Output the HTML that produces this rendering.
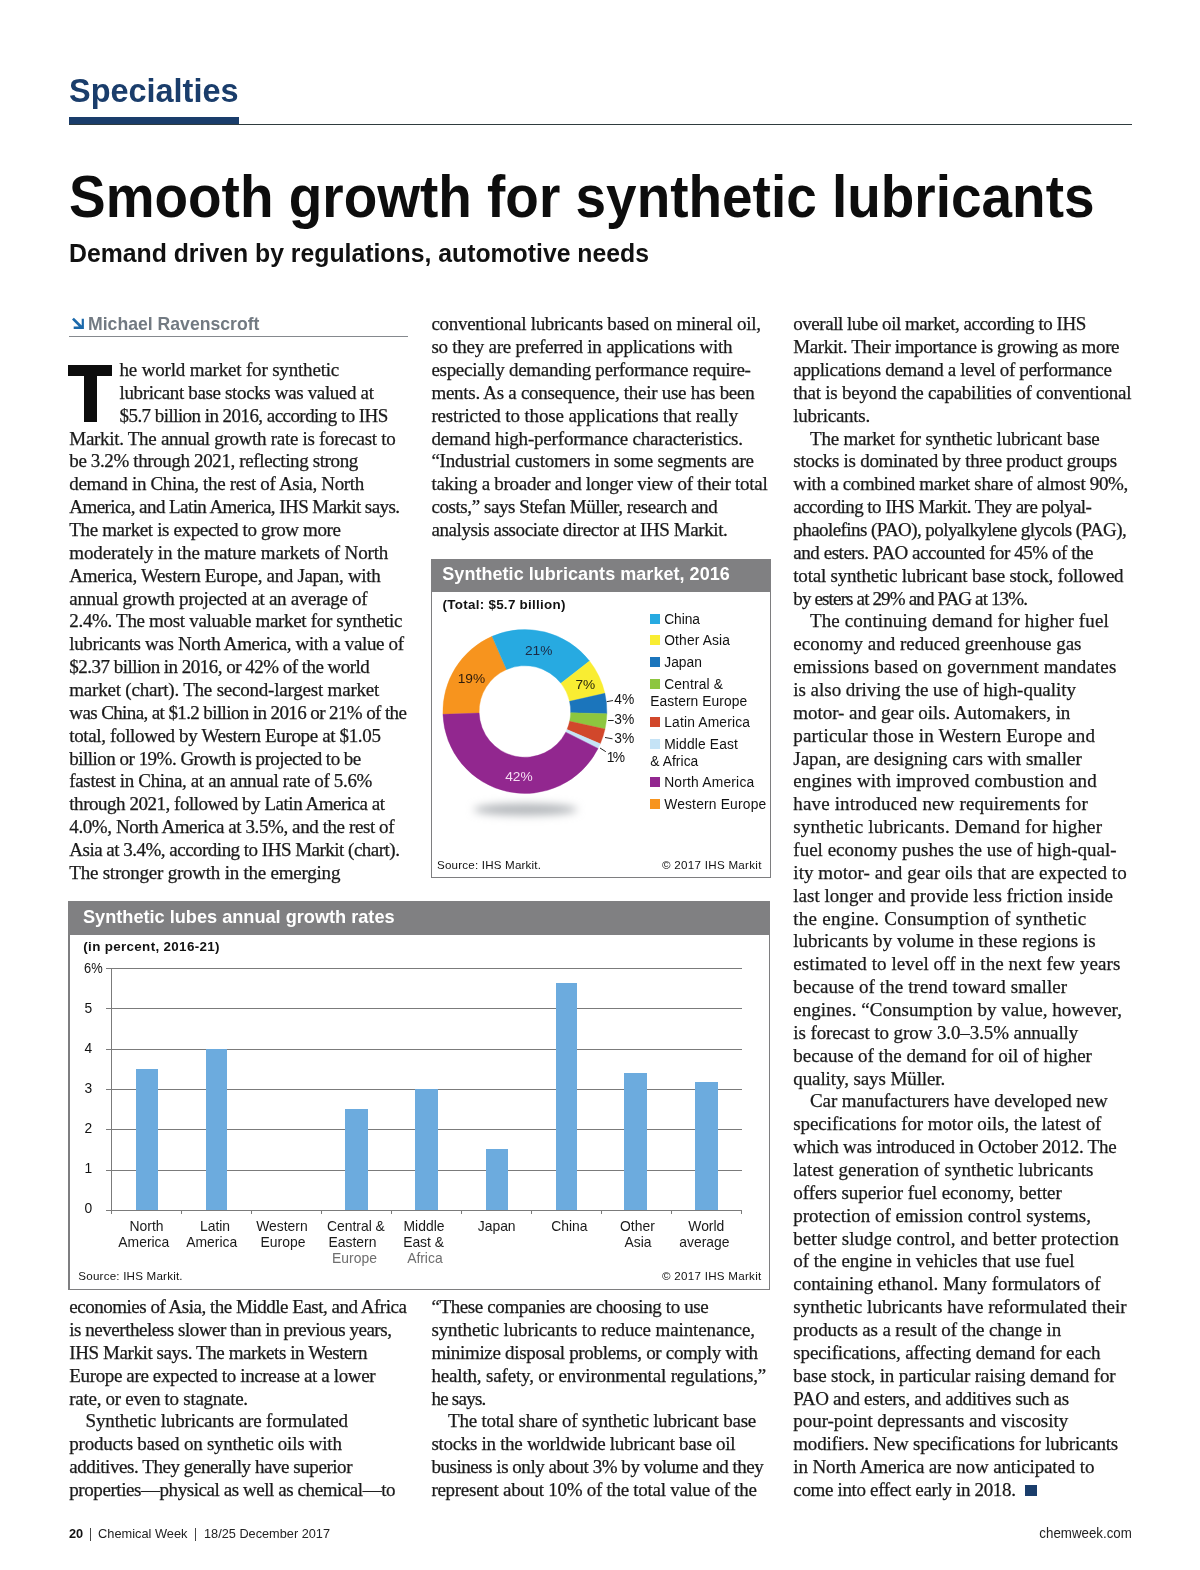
<!DOCTYPE html>
<html><head><meta charset="utf-8"><title>Smooth growth for synthetic lubricants</title>
<style>html,body{margin:0;padding:0;background:#fff}body{width:1200px;height:1570px;position:relative;overflow:hidden}</style>
</head><body>
<div style="position:absolute;left:0;top:0;width:1200px;height:1570px;will-change:transform">
<div style="position:absolute;left:69.20px;top:117.20px;width:169.60px;height:7.50px;background:#1a3d6b;"></div>
<div style="position:absolute;left:69.20px;top:123.70px;width:1062.80px;height:1.20px;background:#2f3b3e;"></div>
<svg style="position:absolute;left:70px;top:315px" width="16" height="16" viewBox="70 315 16 16"><path d="M73.9 317.7 L81.7 325.5 L81.7 318.7 L83.9 318.7 L83.9 328.9 L73.7 328.9 L73.7 326.5 L78.8 326.5 L72 319.6 Z" fill="#1b69ab"/></svg>
<div style="position:absolute;left:69.00px;top:335.70px;width:339.00px;height:1.10px;background:#85898e;"></div>
<div style="position:absolute;left:68.00px;top:365.00px;width:44.00px;height:11.10px;background:#0d0d0d;"></div>
<div style="position:absolute;left:84.00px;top:365.00px;width:12.70px;height:56.70px;background:#0d0d0d;"></div>
<div style="position:absolute;left:1025.40px;top:1485.00px;width:11.70px;height:10.60px;background:#1a3d6b;"></div>
<div style="position:absolute;left:431.1px;top:559px;width:338px;height:317px;border:1px solid #7e7e80;border-left-width:1.2px;background:#fff"></div>
<div style="position:absolute;left:431.00px;top:559.00px;width:340.30px;height:32.50px;background:#808082;"></div>
<svg style="position:absolute;left:431px;top:592px" width="340" height="285" viewBox="431 592 340 285"><defs><filter id="bl" x="-30%" y="-200%" width="160%" height="500%"><feGaussianBlur stdDeviation="4"/></filter></defs><ellipse cx="525.5" cy="809.5" rx="52" ry="6" fill="#b4b7bb" filter="url(#bl)"/><path d="M442.95 714.36 A82.0 82.0 0 0 1 492.07 636.36 L506.56 669.53 A45.8 45.8 0 0 0 479.13 713.10 Z" fill="#f7941e" stroke="#f7941e" stroke-width="0.4"/><path d="M492.07 636.36 A82.0 82.0 0 0 1 589.52 661.02 L560.99 683.30 A45.8 45.8 0 0 0 506.56 669.53 Z" fill="#27aae1" stroke="#27aae1" stroke-width="0.4"/><path d="M589.52 661.02 A82.0 82.0 0 0 1 604.86 693.33 L569.56 701.35 A45.8 45.8 0 0 0 560.99 683.30 Z" fill="#f9ed32" stroke="#f9ed32" stroke-width="0.4"/><path d="M604.86 693.33 A82.0 82.0 0 0 1 606.87 713.79 L570.68 712.78 A45.8 45.8 0 0 0 569.56 701.35 Z" fill="#1b75bc" stroke="#1b75bc" stroke-width="0.4"/><path d="M606.87 713.79 A82.0 82.0 0 0 1 604.99 729.11 L569.63 721.33 A45.8 45.8 0 0 0 570.68 712.78 Z" fill="#8dc63f" stroke="#8dc63f" stroke-width="0.4"/><path d="M604.99 729.11 A82.0 82.0 0 0 1 600.27 743.80 L567.00 729.54 A45.8 45.8 0 0 0 569.63 721.33 Z" fill="#d1472b" stroke="#d1472b" stroke-width="0.4"/><path d="M600.27 743.80 A82.0 82.0 0 0 1 598.09 748.47 L565.78 732.15 A45.8 45.8 0 0 0 567.00 729.54 Z" fill="#c5e3f6" stroke="#c5e3f6" stroke-width="0.4"/><path d="M598.09 748.47 A82.0 82.0 0 0 1 442.95 714.36 L479.13 713.10 A45.8 45.8 0 0 0 565.78 732.15 Z" fill="#92278f" stroke="#92278f" stroke-width="0.4"/><g stroke="#222" stroke-width="1" fill="none"><path d="M606.7 701.7 L613 700.5"/><path d="M608 720.5 L613.7 720.5"/><path d="M605 737.5 L612.5 738.8"/><path d="M600 748 L605.8 751.7"/></g></svg>
<div style="position:absolute;left:650.00px;top:614.40px;width:10.00px;height:9.70px;background:#27aae1;"></div>
<div style="position:absolute;left:650.00px;top:635.40px;width:10.00px;height:9.70px;background:#f9ed32;"></div>
<div style="position:absolute;left:650.00px;top:657.40px;width:10.00px;height:9.70px;background:#1b75bc;"></div>
<div style="position:absolute;left:650.00px;top:679.40px;width:10.00px;height:9.70px;background:#8dc63f;"></div>
<div style="position:absolute;left:650.00px;top:717.40px;width:10.00px;height:9.70px;background:#d1472b;"></div>
<div style="position:absolute;left:650.00px;top:739.40px;width:10.00px;height:9.70px;background:#c5e3f6;"></div>
<div style="position:absolute;left:650.00px;top:777.40px;width:10.00px;height:9.70px;background:#92278f;"></div>
<div style="position:absolute;left:650.00px;top:799.40px;width:10.00px;height:9.70px;background:#f7941e;"></div>
<div style="position:absolute;left:68.2px;top:901px;width:699.1px;height:386.8px;border:1px solid #7e7e80;border-left-width:2px;background:#fff"></div>
<div style="position:absolute;left:68.20px;top:901.00px;width:702.10px;height:33.50px;background:#808082;"></div>
<div style="position:absolute;left:106.20px;top:1209.90px;width:635.50px;height:1.00px;background:#7b7b7b;"></div>
<div style="position:absolute;left:106.20px;top:1169.57px;width:635.50px;height:1.00px;background:#7b7b7b;"></div>
<div style="position:absolute;left:106.20px;top:1129.23px;width:635.50px;height:1.00px;background:#7b7b7b;"></div>
<div style="position:absolute;left:106.20px;top:1088.90px;width:635.50px;height:1.00px;background:#7b7b7b;"></div>
<div style="position:absolute;left:106.20px;top:1048.57px;width:635.50px;height:1.00px;background:#7b7b7b;"></div>
<div style="position:absolute;left:106.20px;top:1008.23px;width:635.50px;height:1.00px;background:#7b7b7b;"></div>
<div style="position:absolute;left:106.20px;top:967.90px;width:635.50px;height:1.00px;background:#7b7b7b;"></div>
<div style="position:absolute;left:110.90px;top:968.40px;width:1.00px;height:242.50px;background:#7b7b7b;"></div>
<div style="position:absolute;left:110.90px;top:1210.40px;width:1.00px;height:3.40px;background:#7b7b7b;"></div>
<div style="position:absolute;left:180.93px;top:1210.40px;width:1.00px;height:3.40px;background:#7b7b7b;"></div>
<div style="position:absolute;left:250.96px;top:1210.40px;width:1.00px;height:3.40px;background:#7b7b7b;"></div>
<div style="position:absolute;left:320.99px;top:1210.40px;width:1.00px;height:3.40px;background:#7b7b7b;"></div>
<div style="position:absolute;left:391.02px;top:1210.40px;width:1.00px;height:3.40px;background:#7b7b7b;"></div>
<div style="position:absolute;left:461.05px;top:1210.40px;width:1.00px;height:3.40px;background:#7b7b7b;"></div>
<div style="position:absolute;left:531.08px;top:1210.40px;width:1.00px;height:3.40px;background:#7b7b7b;"></div>
<div style="position:absolute;left:601.11px;top:1210.40px;width:1.00px;height:3.40px;background:#7b7b7b;"></div>
<div style="position:absolute;left:671.14px;top:1210.40px;width:1.00px;height:3.40px;background:#7b7b7b;"></div>
<div style="position:absolute;left:741.17px;top:1210.40px;width:1.00px;height:3.40px;background:#7b7b7b;"></div>
<div style="position:absolute;left:136.30px;top:1069.00px;width:21.50px;height:141.10px;background:#6cabde;"></div>
<div style="position:absolute;left:206.30px;top:1048.80px;width:20.60px;height:161.30px;background:#6cabde;"></div>
<div style="position:absolute;left:345.40px;top:1109.30px;width:22.20px;height:100.80px;background:#6cabde;"></div>
<div style="position:absolute;left:415.40px;top:1088.80px;width:22.20px;height:121.30px;background:#6cabde;"></div>
<div style="position:absolute;left:486.00px;top:1149.30px;width:22.00px;height:60.80px;background:#6cabde;"></div>
<div style="position:absolute;left:556.00px;top:983.00px;width:20.80px;height:227.10px;background:#6cabde;"></div>
<div style="position:absolute;left:624.20px;top:1072.70px;width:22.80px;height:137.40px;background:#6cabde;"></div>
<div style="position:absolute;left:695.20px;top:1082.20px;width:22.70px;height:127.90px;background:#6cabde;"></div>
<div style="position:absolute;left:90.40px;top:1528.20px;width:1.00px;height:12.60px;background:#444;"></div>
<div style="position:absolute;left:195.40px;top:1528.20px;width:1.00px;height:12.60px;background:#444;"></div>
<div style='position:absolute;top:68.00px;line-height:44.2px;height:44.2px;font-family:"Liberation Sans", sans-serif;font-size:34px;color:#1a3d6b;white-space:pre;font-weight:bold;left:69.30px;transform:scaleX(0.9541);transform-origin:0 0;'>Specialties</div>
<div style='position:absolute;top:158.00px;line-height:77.35px;height:77.35px;font-family:"Liberation Sans", sans-serif;font-size:59.5px;color:#0d0d0d;white-space:pre;font-weight:bold;left:69.00px;transform:scaleX(0.9233);transform-origin:0 0;'>Smooth growth for synthetic lubricants</div>
<div style='position:absolute;top:237.00px;line-height:32.5px;height:32.5px;font-family:"Liberation Sans", sans-serif;font-size:25px;color:#111;white-space:pre;font-weight:bold;left:69.30px;transform:scaleX(0.9917);transform-origin:0 0;'>Demand driven by regulations, automotive needs</div>
<div style='position:absolute;top:312.00px;line-height:24.18px;height:24.18px;font-family:"Liberation Sans", sans-serif;font-size:18.6px;color:#727a82;white-space:pre;font-weight:bold;left:87.60px;transform:scaleX(0.9483);transform-origin:0 0;'>Michael Ravenscroft</div>
<div style='position:absolute;top:358.00px;line-height:24.7px;height:24.7px;font-family:"Liberation Serif", serif;font-size:19px;color:#1a1a1a;white-space:pre;letter-spacing:-0.177px;left:119.50px;-webkit-text-stroke:0.25px #1a1a1a;'>he world market for synthetic</div>
<div style='position:absolute;top:381.00px;line-height:24.7px;height:24.7px;font-family:"Liberation Serif", serif;font-size:19px;color:#1a1a1a;white-space:pre;letter-spacing:-0.352px;left:119.50px;-webkit-text-stroke:0.25px #1a1a1a;'>lubricant base stocks was valued at</div>
<div style='position:absolute;top:404.00px;line-height:24.7px;height:24.7px;font-family:"Liberation Serif", serif;font-size:19px;color:#1a1a1a;white-space:pre;letter-spacing:-0.551px;left:119.50px;-webkit-text-stroke:0.25px #1a1a1a;'>$5.7 billion in 2016, according to IHS</div>
<div style='position:absolute;top:427.00px;line-height:24.7px;height:24.7px;font-family:"Liberation Serif", serif;font-size:19px;color:#1a1a1a;white-space:pre;letter-spacing:-0.296px;left:69.30px;-webkit-text-stroke:0.25px #1a1a1a;'>Markit. The annual growth rate is forecast to</div>
<div style='position:absolute;top:449.00px;line-height:24.7px;height:24.7px;font-family:"Liberation Serif", serif;font-size:19px;color:#1a1a1a;white-space:pre;letter-spacing:-0.379px;left:69.30px;-webkit-text-stroke:0.25px #1a1a1a;'>be 3.2% through 2021, reflecting strong</div>
<div style='position:absolute;top:472.00px;line-height:24.7px;height:24.7px;font-family:"Liberation Serif", serif;font-size:19px;color:#1a1a1a;white-space:pre;letter-spacing:-0.324px;left:69.30px;-webkit-text-stroke:0.25px #1a1a1a;'>demand in China, the rest of Asia, North</div>
<div style='position:absolute;top:495.00px;line-height:24.7px;height:24.7px;font-family:"Liberation Serif", serif;font-size:19px;color:#1a1a1a;white-space:pre;letter-spacing:-0.567px;left:69.30px;-webkit-text-stroke:0.25px #1a1a1a;'>America, and Latin America, IHS Markit says.</div>
<div style='position:absolute;top:518.00px;line-height:24.7px;height:24.7px;font-family:"Liberation Serif", serif;font-size:19px;color:#1a1a1a;white-space:pre;letter-spacing:-0.357px;left:69.30px;-webkit-text-stroke:0.25px #1a1a1a;'>The market is expected to grow more</div>
<div style='position:absolute;top:541.00px;line-height:24.7px;height:24.7px;font-family:"Liberation Serif", serif;font-size:19px;color:#1a1a1a;white-space:pre;letter-spacing:-0.150px;left:69.30px;-webkit-text-stroke:0.25px #1a1a1a;'>moderately in the mature markets of North</div>
<div style='position:absolute;top:564.00px;line-height:24.7px;height:24.7px;font-family:"Liberation Serif", serif;font-size:19px;color:#1a1a1a;white-space:pre;letter-spacing:-0.328px;left:69.30px;-webkit-text-stroke:0.25px #1a1a1a;'>America, Western Europe, and Japan, with</div>
<div style='position:absolute;top:587.00px;line-height:24.7px;height:24.7px;font-family:"Liberation Serif", serif;font-size:19px;color:#1a1a1a;white-space:pre;letter-spacing:-0.305px;left:69.30px;-webkit-text-stroke:0.25px #1a1a1a;'>annual growth projected at an average of</div>
<div style='position:absolute;top:609.00px;line-height:24.7px;height:24.7px;font-family:"Liberation Serif", serif;font-size:19px;color:#1a1a1a;white-space:pre;letter-spacing:-0.320px;left:69.30px;-webkit-text-stroke:0.25px #1a1a1a;'>2.4%. The most valuable market for synthetic</div>
<div style='position:absolute;top:632.00px;line-height:24.7px;height:24.7px;font-family:"Liberation Serif", serif;font-size:19px;color:#1a1a1a;white-space:pre;letter-spacing:-0.356px;left:69.30px;-webkit-text-stroke:0.25px #1a1a1a;'>lubricants was North America, with a value of</div>
<div style='position:absolute;top:655.00px;line-height:24.7px;height:24.7px;font-family:"Liberation Serif", serif;font-size:19px;color:#1a1a1a;white-space:pre;letter-spacing:-0.522px;left:69.30px;-webkit-text-stroke:0.25px #1a1a1a;'>$2.37 billion in 2016, or 42% of the world</div>
<div style='position:absolute;top:678.00px;line-height:24.7px;height:24.7px;font-family:"Liberation Serif", serif;font-size:19px;color:#1a1a1a;white-space:pre;letter-spacing:-0.212px;left:69.30px;-webkit-text-stroke:0.25px #1a1a1a;'>market (chart). The second-largest market</div>
<div style='position:absolute;top:701.00px;line-height:24.7px;height:24.7px;font-family:"Liberation Serif", serif;font-size:19px;color:#1a1a1a;white-space:pre;letter-spacing:-0.609px;left:69.30px;-webkit-text-stroke:0.25px #1a1a1a;'>was China, at $1.2 billion in 2016 or 21% of the</div>
<div style='position:absolute;top:724.00px;line-height:24.7px;height:24.7px;font-family:"Liberation Serif", serif;font-size:19px;color:#1a1a1a;white-space:pre;letter-spacing:-0.359px;left:69.30px;-webkit-text-stroke:0.25px #1a1a1a;'>total, followed by Western Europe at $1.05</div>
<div style='position:absolute;top:747.00px;line-height:24.7px;height:24.7px;font-family:"Liberation Serif", serif;font-size:19px;color:#1a1a1a;white-space:pre;letter-spacing:-0.510px;left:69.30px;-webkit-text-stroke:0.25px #1a1a1a;'>billion or 19%. Growth is projected to be</div>
<div style='position:absolute;top:769.00px;line-height:24.7px;height:24.7px;font-family:"Liberation Serif", serif;font-size:19px;color:#1a1a1a;white-space:pre;letter-spacing:-0.346px;left:69.30px;-webkit-text-stroke:0.25px #1a1a1a;'>fastest in China, at an annual rate of 5.6%</div>
<div style='position:absolute;top:792.00px;line-height:24.7px;height:24.7px;font-family:"Liberation Serif", serif;font-size:19px;color:#1a1a1a;white-space:pre;letter-spacing:-0.472px;left:69.30px;-webkit-text-stroke:0.25px #1a1a1a;'>through 2021, followed by Latin America at</div>
<div style='position:absolute;top:815.00px;line-height:24.7px;height:24.7px;font-family:"Liberation Serif", serif;font-size:19px;color:#1a1a1a;white-space:pre;letter-spacing:-0.413px;left:69.30px;-webkit-text-stroke:0.25px #1a1a1a;'>4.0%, North America at 3.5%, and the rest of</div>
<div style='position:absolute;top:838.00px;line-height:24.7px;height:24.7px;font-family:"Liberation Serif", serif;font-size:19px;color:#1a1a1a;white-space:pre;letter-spacing:-0.509px;left:69.30px;-webkit-text-stroke:0.25px #1a1a1a;'>Asia at 3.4%, according to IHS Markit (chart).</div>
<div style='position:absolute;top:861.00px;line-height:24.7px;height:24.7px;font-family:"Liberation Serif", serif;font-size:19px;color:#1a1a1a;white-space:pre;letter-spacing:-0.226px;left:69.30px;-webkit-text-stroke:0.25px #1a1a1a;'>The stronger growth in the emerging</div>
<div style='position:absolute;top:1295.00px;line-height:24.7px;height:24.7px;font-family:"Liberation Serif", serif;font-size:19px;color:#1a1a1a;white-space:pre;letter-spacing:-0.483px;left:69.30px;-webkit-text-stroke:0.25px #1a1a1a;'>economies of Asia, the Middle East, and Africa</div>
<div style='position:absolute;top:1318.00px;line-height:24.7px;height:24.7px;font-family:"Liberation Serif", serif;font-size:19px;color:#1a1a1a;white-space:pre;letter-spacing:-0.464px;left:69.30px;-webkit-text-stroke:0.25px #1a1a1a;'>is nevertheless slower than in previous years,</div>
<div style='position:absolute;top:1341.00px;line-height:24.7px;height:24.7px;font-family:"Liberation Serif", serif;font-size:19px;color:#1a1a1a;white-space:pre;letter-spacing:-0.412px;left:69.30px;-webkit-text-stroke:0.25px #1a1a1a;'>IHS Markit says. The markets in Western</div>
<div style='position:absolute;top:1364.00px;line-height:24.7px;height:24.7px;font-family:"Liberation Serif", serif;font-size:19px;color:#1a1a1a;white-space:pre;letter-spacing:-0.365px;left:69.30px;-webkit-text-stroke:0.25px #1a1a1a;'>Europe are expected to increase at a lower</div>
<div style='position:absolute;top:1387.00px;line-height:24.7px;height:24.7px;font-family:"Liberation Serif", serif;font-size:19px;color:#1a1a1a;white-space:pre;letter-spacing:-0.276px;left:69.30px;-webkit-text-stroke:0.25px #1a1a1a;'>rate, or even to stagnate.</div>
<div style='position:absolute;top:1409.00px;line-height:24.7px;height:24.7px;font-family:"Liberation Serif", serif;font-size:19px;color:#1a1a1a;white-space:pre;letter-spacing:-0.147px;left:85.60px;-webkit-text-stroke:0.25px #1a1a1a;'>Synthetic lubricants are formulated</div>
<div style='position:absolute;top:1432.00px;line-height:24.7px;height:24.7px;font-family:"Liberation Serif", serif;font-size:19px;color:#1a1a1a;white-space:pre;letter-spacing:-0.241px;left:69.30px;-webkit-text-stroke:0.25px #1a1a1a;'>products based on synthetic oils with</div>
<div style='position:absolute;top:1455.00px;line-height:24.7px;height:24.7px;font-family:"Liberation Serif", serif;font-size:19px;color:#1a1a1a;white-space:pre;letter-spacing:-0.438px;left:69.30px;-webkit-text-stroke:0.25px #1a1a1a;'>additives. They generally have superior</div>
<div style='position:absolute;top:1478.00px;line-height:24.7px;height:24.7px;font-family:"Liberation Serif", serif;font-size:19px;color:#1a1a1a;white-space:pre;letter-spacing:-0.432px;left:69.30px;-webkit-text-stroke:0.25px #1a1a1a;'>properties—physical as well as chemical—to</div>
<div style='position:absolute;top:312.00px;line-height:24.7px;height:24.7px;font-family:"Liberation Serif", serif;font-size:19px;color:#1a1a1a;white-space:pre;letter-spacing:-0.280px;left:431.40px;-webkit-text-stroke:0.25px #1a1a1a;'>conventional lubricants based on mineral oil,</div>
<div style='position:absolute;top:335.00px;line-height:24.7px;height:24.7px;font-family:"Liberation Serif", serif;font-size:19px;color:#1a1a1a;white-space:pre;letter-spacing:-0.248px;left:431.40px;-webkit-text-stroke:0.25px #1a1a1a;'>so they are preferred in applications with</div>
<div style='position:absolute;top:358.00px;line-height:24.7px;height:24.7px;font-family:"Liberation Serif", serif;font-size:19px;color:#1a1a1a;white-space:pre;letter-spacing:-0.282px;left:431.40px;-webkit-text-stroke:0.25px #1a1a1a;'>especially demanding performance require-</div>
<div style='position:absolute;top:381.00px;line-height:24.7px;height:24.7px;font-family:"Liberation Serif", serif;font-size:19px;color:#1a1a1a;white-space:pre;letter-spacing:-0.280px;left:431.40px;-webkit-text-stroke:0.25px #1a1a1a;'>ments. As a consequence, their use has been</div>
<div style='position:absolute;top:404.00px;line-height:24.7px;height:24.7px;font-family:"Liberation Serif", serif;font-size:19px;color:#1a1a1a;white-space:pre;letter-spacing:-0.141px;left:431.40px;-webkit-text-stroke:0.25px #1a1a1a;'>restricted to those applications that really</div>
<div style='position:absolute;top:427.00px;line-height:24.7px;height:24.7px;font-family:"Liberation Serif", serif;font-size:19px;color:#1a1a1a;white-space:pre;letter-spacing:-0.194px;left:431.40px;-webkit-text-stroke:0.25px #1a1a1a;'>demand high-performance characteristics.</div>
<div style='position:absolute;top:449.00px;line-height:24.7px;height:24.7px;font-family:"Liberation Serif", serif;font-size:19px;color:#1a1a1a;white-space:pre;letter-spacing:-0.201px;left:431.40px;-webkit-text-stroke:0.25px #1a1a1a;'>“Industrial customers in some segments are</div>
<div style='position:absolute;top:472.00px;line-height:24.7px;height:24.7px;font-family:"Liberation Serif", serif;font-size:19px;color:#1a1a1a;white-space:pre;letter-spacing:-0.282px;left:431.40px;-webkit-text-stroke:0.25px #1a1a1a;'>taking a broader and longer view of their total</div>
<div style='position:absolute;top:495.00px;line-height:24.7px;height:24.7px;font-family:"Liberation Serif", serif;font-size:19px;color:#1a1a1a;white-space:pre;letter-spacing:-0.418px;left:431.40px;-webkit-text-stroke:0.25px #1a1a1a;'>costs,” says Stefan Müller, research and</div>
<div style='position:absolute;top:518.00px;line-height:24.7px;height:24.7px;font-family:"Liberation Serif", serif;font-size:19px;color:#1a1a1a;white-space:pre;letter-spacing:-0.415px;left:431.40px;-webkit-text-stroke:0.25px #1a1a1a;'>analysis associate director at IHS Markit.</div>
<div style='position:absolute;top:1295.00px;line-height:24.7px;height:24.7px;font-family:"Liberation Serif", serif;font-size:19px;color:#1a1a1a;white-space:pre;letter-spacing:-0.381px;left:431.40px;-webkit-text-stroke:0.25px #1a1a1a;'>“These companies are choosing to use</div>
<div style='position:absolute;top:1318.00px;line-height:24.7px;height:24.7px;font-family:"Liberation Serif", serif;font-size:19px;color:#1a1a1a;white-space:pre;letter-spacing:-0.121px;left:431.40px;-webkit-text-stroke:0.25px #1a1a1a;'>synthetic lubricants to reduce maintenance,</div>
<div style='position:absolute;top:1341.00px;line-height:24.7px;height:24.7px;font-family:"Liberation Serif", serif;font-size:19px;color:#1a1a1a;white-space:pre;letter-spacing:-0.321px;left:431.40px;-webkit-text-stroke:0.25px #1a1a1a;'>minimize disposal problems, or comply with</div>
<div style='position:absolute;top:1364.00px;line-height:24.7px;height:24.7px;font-family:"Liberation Serif", serif;font-size:19px;color:#1a1a1a;white-space:pre;letter-spacing:-0.163px;left:431.40px;-webkit-text-stroke:0.25px #1a1a1a;'>health, safety, or environmental regulations,”</div>
<div style='position:absolute;top:1387.00px;line-height:24.7px;height:24.7px;font-family:"Liberation Serif", serif;font-size:19px;color:#1a1a1a;white-space:pre;letter-spacing:-0.751px;left:431.40px;-webkit-text-stroke:0.25px #1a1a1a;'>he says.</div>
<div style='position:absolute;top:1409.00px;line-height:24.7px;height:24.7px;font-family:"Liberation Serif", serif;font-size:19px;color:#1a1a1a;white-space:pre;letter-spacing:-0.222px;left:448.00px;-webkit-text-stroke:0.25px #1a1a1a;'>The total share of synthetic lubricant base</div>
<div style='position:absolute;top:1432.00px;line-height:24.7px;height:24.7px;font-family:"Liberation Serif", serif;font-size:19px;color:#1a1a1a;white-space:pre;letter-spacing:-0.303px;left:431.40px;-webkit-text-stroke:0.25px #1a1a1a;'>stocks in the worldwide lubricant base oil</div>
<div style='position:absolute;top:1455.00px;line-height:24.7px;height:24.7px;font-family:"Liberation Serif", serif;font-size:19px;color:#1a1a1a;white-space:pre;letter-spacing:-0.468px;left:431.40px;-webkit-text-stroke:0.25px #1a1a1a;'>business is only about 3% by volume and they</div>
<div style='position:absolute;top:1478.00px;line-height:24.7px;height:24.7px;font-family:"Liberation Serif", serif;font-size:19px;color:#1a1a1a;white-space:pre;letter-spacing:-0.277px;left:431.40px;-webkit-text-stroke:0.25px #1a1a1a;'>represent about 10% of the total value of the</div>
<div style='position:absolute;top:312.00px;line-height:24.7px;height:24.7px;font-family:"Liberation Serif", serif;font-size:19px;color:#1a1a1a;white-space:pre;letter-spacing:-0.473px;left:793.30px;-webkit-text-stroke:0.25px #1a1a1a;'>overall lube oil market, according to IHS</div>
<div style='position:absolute;top:335.00px;line-height:24.7px;height:24.7px;font-family:"Liberation Serif", serif;font-size:19px;color:#1a1a1a;white-space:pre;letter-spacing:-0.378px;left:793.30px;-webkit-text-stroke:0.25px #1a1a1a;'>Markit. Their importance is growing as more</div>
<div style='position:absolute;top:358.00px;line-height:24.7px;height:24.7px;font-family:"Liberation Serif", serif;font-size:19px;color:#1a1a1a;white-space:pre;letter-spacing:-0.349px;left:793.30px;-webkit-text-stroke:0.25px #1a1a1a;'>applications demand a level of performance</div>
<div style='position:absolute;top:381.00px;line-height:24.7px;height:24.7px;font-family:"Liberation Serif", serif;font-size:19px;color:#1a1a1a;white-space:pre;letter-spacing:-0.241px;left:793.30px;-webkit-text-stroke:0.25px #1a1a1a;'>that is beyond the capabilities of conventional</div>
<div style='position:absolute;top:404.00px;line-height:24.7px;height:24.7px;font-family:"Liberation Serif", serif;font-size:19px;color:#1a1a1a;white-space:pre;letter-spacing:-0.279px;left:793.30px;-webkit-text-stroke:0.25px #1a1a1a;'>lubricants.</div>
<div style='position:absolute;top:427.00px;line-height:24.7px;height:24.7px;font-family:"Liberation Serif", serif;font-size:19px;color:#1a1a1a;white-space:pre;letter-spacing:-0.218px;left:810.00px;-webkit-text-stroke:0.25px #1a1a1a;'>The market for synthetic lubricant base</div>
<div style='position:absolute;top:449.00px;line-height:24.7px;height:24.7px;font-family:"Liberation Serif", serif;font-size:19px;color:#1a1a1a;white-space:pre;letter-spacing:-0.279px;left:793.30px;-webkit-text-stroke:0.25px #1a1a1a;'>stocks is dominated by three product groups</div>
<div style='position:absolute;top:472.00px;line-height:24.7px;height:24.7px;font-family:"Liberation Serif", serif;font-size:19px;color:#1a1a1a;white-space:pre;letter-spacing:-0.340px;left:793.30px;-webkit-text-stroke:0.25px #1a1a1a;'>with a combined market share of almost 90%,</div>
<div style='position:absolute;top:495.00px;line-height:24.7px;height:24.7px;font-family:"Liberation Serif", serif;font-size:19px;color:#1a1a1a;white-space:pre;letter-spacing:-0.559px;left:793.30px;-webkit-text-stroke:0.25px #1a1a1a;'>according to IHS Markit. They are polyal-</div>
<div style='position:absolute;top:518.00px;line-height:24.7px;height:24.7px;font-family:"Liberation Serif", serif;font-size:19px;color:#1a1a1a;white-space:pre;letter-spacing:-0.571px;left:793.30px;-webkit-text-stroke:0.25px #1a1a1a;'>phaolefins (PAO), polyalkylene glycols (PAG),</div>
<div style='position:absolute;top:541.00px;line-height:24.7px;height:24.7px;font-family:"Liberation Serif", serif;font-size:19px;color:#1a1a1a;white-space:pre;letter-spacing:-0.456px;left:793.30px;-webkit-text-stroke:0.25px #1a1a1a;'>and esters. PAO accounted for 45% of the</div>
<div style='position:absolute;top:564.00px;line-height:24.7px;height:24.7px;font-family:"Liberation Serif", serif;font-size:19px;color:#1a1a1a;white-space:pre;letter-spacing:-0.211px;left:793.30px;-webkit-text-stroke:0.25px #1a1a1a;'>total synthetic lubricant base stock, followed</div>
<div style='position:absolute;top:587.00px;line-height:24.7px;height:24.7px;font-family:"Liberation Serif", serif;font-size:19px;color:#1a1a1a;white-space:pre;letter-spacing:-0.850px;left:793.30px;-webkit-text-stroke:0.25px #1a1a1a;'>by esters at 29% and PAG at 13%.</div>
<div style='position:absolute;top:609.00px;line-height:24.7px;height:24.7px;font-family:"Liberation Serif", serif;font-size:19px;color:#1a1a1a;white-space:pre;letter-spacing:0.105px;left:810.00px;-webkit-text-stroke:0.25px #1a1a1a;'>The continuing demand for higher fuel</div>
<div style='position:absolute;top:632.00px;line-height:24.7px;height:24.7px;font-family:"Liberation Serif", serif;font-size:19px;color:#1a1a1a;white-space:pre;letter-spacing:0.004px;left:793.30px;-webkit-text-stroke:0.25px #1a1a1a;'>economy and reduced greenhouse gas</div>
<div style='position:absolute;top:655.00px;line-height:24.7px;height:24.7px;font-family:"Liberation Serif", serif;font-size:19px;color:#1a1a1a;white-space:pre;letter-spacing:0.116px;left:793.30px;-webkit-text-stroke:0.25px #1a1a1a;'>emissions based on government mandates</div>
<div style='position:absolute;top:678.00px;line-height:24.7px;height:24.7px;font-family:"Liberation Serif", serif;font-size:19px;color:#1a1a1a;white-space:pre;letter-spacing:-0.032px;left:793.30px;-webkit-text-stroke:0.25px #1a1a1a;'>is also driving the use of high-quality</div>
<div style='position:absolute;top:701.00px;line-height:24.7px;height:24.7px;font-family:"Liberation Serif", serif;font-size:19px;color:#1a1a1a;white-space:pre;letter-spacing:-0.048px;left:793.30px;-webkit-text-stroke:0.25px #1a1a1a;'>motor- and gear oils. Automakers, in</div>
<div style='position:absolute;top:724.00px;line-height:24.7px;height:24.7px;font-family:"Liberation Serif", serif;font-size:19px;color:#1a1a1a;white-space:pre;letter-spacing:0.176px;left:793.30px;-webkit-text-stroke:0.25px #1a1a1a;'>particular those in Western Europe and</div>
<div style='position:absolute;top:747.00px;line-height:24.7px;height:24.7px;font-family:"Liberation Serif", serif;font-size:19px;color:#1a1a1a;white-space:pre;letter-spacing:-0.017px;left:793.30px;-webkit-text-stroke:0.25px #1a1a1a;'>Japan, are designing cars with smaller</div>
<div style='position:absolute;top:769.00px;line-height:24.7px;height:24.7px;font-family:"Liberation Serif", serif;font-size:19px;color:#1a1a1a;white-space:pre;letter-spacing:0.105px;left:793.30px;-webkit-text-stroke:0.25px #1a1a1a;'>engines with improved combustion and</div>
<div style='position:absolute;top:792.00px;line-height:24.7px;height:24.7px;font-family:"Liberation Serif", serif;font-size:19px;color:#1a1a1a;white-space:pre;letter-spacing:0.154px;left:793.30px;-webkit-text-stroke:0.25px #1a1a1a;'>have introduced new requirements for</div>
<div style='position:absolute;top:815.00px;line-height:24.7px;height:24.7px;font-family:"Liberation Serif", serif;font-size:19px;color:#1a1a1a;white-space:pre;letter-spacing:0.167px;left:793.30px;-webkit-text-stroke:0.25px #1a1a1a;'>synthetic lubricants. Demand for higher</div>
<div style='position:absolute;top:838.00px;line-height:24.7px;height:24.7px;font-family:"Liberation Serif", serif;font-size:19px;color:#1a1a1a;white-space:pre;letter-spacing:0.009px;left:793.30px;-webkit-text-stroke:0.25px #1a1a1a;'>fuel economy pushes the use of high-qual-</div>
<div style='position:absolute;top:861.00px;line-height:24.7px;height:24.7px;font-family:"Liberation Serif", serif;font-size:19px;color:#1a1a1a;white-space:pre;letter-spacing:0.056px;left:793.30px;-webkit-text-stroke:0.25px #1a1a1a;'>ity motor- and gear oils that are expected to</div>
<div style='position:absolute;top:884.00px;line-height:24.7px;height:24.7px;font-family:"Liberation Serif", serif;font-size:19px;color:#1a1a1a;white-space:pre;letter-spacing:0.023px;left:793.30px;-webkit-text-stroke:0.25px #1a1a1a;'>last longer and provide less friction inside</div>
<div style='position:absolute;top:907.00px;line-height:24.7px;height:24.7px;font-family:"Liberation Serif", serif;font-size:19px;color:#1a1a1a;white-space:pre;letter-spacing:0.242px;left:793.30px;-webkit-text-stroke:0.25px #1a1a1a;'>the engine. Consumption of synthetic</div>
<div style='position:absolute;top:929.00px;line-height:24.7px;height:24.7px;font-family:"Liberation Serif", serif;font-size:19px;color:#1a1a1a;white-space:pre;letter-spacing:0.014px;left:793.30px;-webkit-text-stroke:0.25px #1a1a1a;'>lubricants by volume in these regions is</div>
<div style='position:absolute;top:952.00px;line-height:24.7px;height:24.7px;font-family:"Liberation Serif", serif;font-size:19px;color:#1a1a1a;white-space:pre;letter-spacing:0.082px;left:793.30px;-webkit-text-stroke:0.25px #1a1a1a;'>estimated to level off in the next few years</div>
<div style='position:absolute;top:975.00px;line-height:24.7px;height:24.7px;font-family:"Liberation Serif", serif;font-size:19px;color:#1a1a1a;white-space:pre;letter-spacing:0.096px;left:793.30px;-webkit-text-stroke:0.25px #1a1a1a;'>because of the trend toward smaller</div>
<div style='position:absolute;top:998.00px;line-height:24.7px;height:24.7px;font-family:"Liberation Serif", serif;font-size:19px;color:#1a1a1a;white-space:pre;letter-spacing:0.045px;left:793.30px;-webkit-text-stroke:0.25px #1a1a1a;'>engines. “Consumption by value, however,</div>
<div style='position:absolute;top:1021.00px;line-height:24.7px;height:24.7px;font-family:"Liberation Serif", serif;font-size:19px;color:#1a1a1a;white-space:pre;letter-spacing:-0.101px;left:793.30px;-webkit-text-stroke:0.25px #1a1a1a;'>is forecast to grow 3.0–3.5% annually</div>
<div style='position:absolute;top:1044.00px;line-height:24.7px;height:24.7px;font-family:"Liberation Serif", serif;font-size:19px;color:#1a1a1a;white-space:pre;letter-spacing:-0.014px;left:793.30px;-webkit-text-stroke:0.25px #1a1a1a;'>because of the demand for oil of higher</div>
<div style='position:absolute;top:1067.00px;line-height:24.7px;height:24.7px;font-family:"Liberation Serif", serif;font-size:19px;color:#1a1a1a;white-space:pre;letter-spacing:-0.096px;left:793.30px;-webkit-text-stroke:0.25px #1a1a1a;'>quality, says Müller.</div>
<div style='position:absolute;top:1089.00px;line-height:24.7px;height:24.7px;font-family:"Liberation Serif", serif;font-size:19px;color:#1a1a1a;white-space:pre;letter-spacing:-0.086px;left:810.00px;-webkit-text-stroke:0.25px #1a1a1a;'>Car manufacturers have developed new</div>
<div style='position:absolute;top:1112.00px;line-height:24.7px;height:24.7px;font-family:"Liberation Serif", serif;font-size:19px;color:#1a1a1a;white-space:pre;letter-spacing:-0.087px;left:793.30px;-webkit-text-stroke:0.25px #1a1a1a;'>specifications for motor oils, the latest of</div>
<div style='position:absolute;top:1135.00px;line-height:24.7px;height:24.7px;font-family:"Liberation Serif", serif;font-size:19px;color:#1a1a1a;white-space:pre;letter-spacing:-0.259px;left:793.30px;-webkit-text-stroke:0.25px #1a1a1a;'>which was introduced in October 2012. The</div>
<div style='position:absolute;top:1158.00px;line-height:24.7px;height:24.7px;font-family:"Liberation Serif", serif;font-size:19px;color:#1a1a1a;white-space:pre;letter-spacing:0.039px;left:793.30px;-webkit-text-stroke:0.25px #1a1a1a;'>latest generation of synthetic lubricants</div>
<div style='position:absolute;top:1181.00px;line-height:24.7px;height:24.7px;font-family:"Liberation Serif", serif;font-size:19px;color:#1a1a1a;white-space:pre;letter-spacing:-0.077px;left:793.30px;-webkit-text-stroke:0.25px #1a1a1a;'>offers superior fuel economy, better</div>
<div style='position:absolute;top:1204.00px;line-height:24.7px;height:24.7px;font-family:"Liberation Serif", serif;font-size:19px;color:#1a1a1a;white-space:pre;letter-spacing:-0.012px;left:793.30px;-webkit-text-stroke:0.25px #1a1a1a;'>protection of emission control systems,</div>
<div style='position:absolute;top:1227.00px;line-height:24.7px;height:24.7px;font-family:"Liberation Serif", serif;font-size:19px;color:#1a1a1a;white-space:pre;letter-spacing:0.061px;left:793.30px;-webkit-text-stroke:0.25px #1a1a1a;'>better sludge control, and better protection</div>
<div style='position:absolute;top:1249.00px;line-height:24.7px;height:24.7px;font-family:"Liberation Serif", serif;font-size:19px;color:#1a1a1a;white-space:pre;letter-spacing:-0.056px;left:793.30px;-webkit-text-stroke:0.25px #1a1a1a;'>of the engine in vehicles that use fuel</div>
<div style='position:absolute;top:1272.00px;line-height:24.7px;height:24.7px;font-family:"Liberation Serif", serif;font-size:19px;color:#1a1a1a;white-space:pre;letter-spacing:-0.039px;left:793.30px;-webkit-text-stroke:0.25px #1a1a1a;'>containing ethanol. Many formulators of</div>
<div style='position:absolute;top:1295.00px;line-height:24.7px;height:24.7px;font-family:"Liberation Serif", serif;font-size:19px;color:#1a1a1a;white-space:pre;letter-spacing:0.048px;left:793.30px;-webkit-text-stroke:0.25px #1a1a1a;'>synthetic lubricants have reformulated their</div>
<div style='position:absolute;top:1318.00px;line-height:24.7px;height:24.7px;font-family:"Liberation Serif", serif;font-size:19px;color:#1a1a1a;white-space:pre;letter-spacing:-0.136px;left:793.30px;-webkit-text-stroke:0.25px #1a1a1a;'>products as a result of the change in</div>
<div style='position:absolute;top:1341.00px;line-height:24.7px;height:24.7px;font-family:"Liberation Serif", serif;font-size:19px;color:#1a1a1a;white-space:pre;letter-spacing:-0.132px;left:793.30px;-webkit-text-stroke:0.25px #1a1a1a;'>specifications, affecting demand for each</div>
<div style='position:absolute;top:1364.00px;line-height:24.7px;height:24.7px;font-family:"Liberation Serif", serif;font-size:19px;color:#1a1a1a;white-space:pre;letter-spacing:-0.147px;left:793.30px;-webkit-text-stroke:0.25px #1a1a1a;'>base stock, in particular raising demand for</div>
<div style='position:absolute;top:1387.00px;line-height:24.7px;height:24.7px;font-family:"Liberation Serif", serif;font-size:19px;color:#1a1a1a;white-space:pre;letter-spacing:-0.309px;left:793.30px;-webkit-text-stroke:0.25px #1a1a1a;'>PAO and esters, and additives such as</div>
<div style='position:absolute;top:1409.00px;line-height:24.7px;height:24.7px;font-family:"Liberation Serif", serif;font-size:19px;color:#1a1a1a;white-space:pre;letter-spacing:-0.051px;left:793.30px;-webkit-text-stroke:0.25px #1a1a1a;'>pour-point depressants and viscosity</div>
<div style='position:absolute;top:1432.00px;line-height:24.7px;height:24.7px;font-family:"Liberation Serif", serif;font-size:19px;color:#1a1a1a;white-space:pre;letter-spacing:-0.211px;left:793.30px;-webkit-text-stroke:0.25px #1a1a1a;'>modifiers. New specifications for lubricants</div>
<div style='position:absolute;top:1455.00px;line-height:24.7px;height:24.7px;font-family:"Liberation Serif", serif;font-size:19px;color:#1a1a1a;white-space:pre;letter-spacing:-0.129px;left:793.30px;-webkit-text-stroke:0.25px #1a1a1a;'>in North America are now anticipated to</div>
<div style='position:absolute;top:1478.00px;line-height:24.7px;height:24.7px;font-family:"Liberation Serif", serif;font-size:19px;color:#1a1a1a;white-space:pre;letter-spacing:-0.341px;left:793.30px;-webkit-text-stroke:0.25px #1a1a1a;'>come into effect early in 2018.</div>
<div style='position:absolute;top:563.00px;line-height:23.4px;height:23.4px;font-family:"Liberation Sans", sans-serif;font-size:18px;color:#fff;white-space:pre;font-weight:bold;letter-spacing:0.043px;left:442.30px;'>Synthetic lubricants market, 2016</div>
<div style='position:absolute;top:596.00px;line-height:17.42px;height:17.42px;font-family:"Liberation Sans", sans-serif;font-size:13.4px;color:#111;white-space:pre;font-weight:bold;letter-spacing:0.285px;left:442.50px;'>(Total: $5.7 billion)</div>
<div style='position:absolute;top:642.00px;line-height:17.81px;height:17.81px;font-family:"Liberation Sans", sans-serif;font-size:13.7px;color:#1c2a44;white-space:pre;left:238.70px;width:600px;text-align:center;'>21%</div>
<div style='position:absolute;top:670.00px;line-height:17.81px;height:17.81px;font-family:"Liberation Sans", sans-serif;font-size:13.7px;color:#2e1c0c;white-space:pre;left:171.40px;width:600px;text-align:center;'>19%</div>
<div style='position:absolute;top:676.00px;line-height:17.81px;height:17.81px;font-family:"Liberation Sans", sans-serif;font-size:13.7px;color:#26260e;white-space:pre;left:285.40px;width:600px;text-align:center;'>7%</div>
<div style='position:absolute;top:768.00px;line-height:17.81px;height:17.81px;font-family:"Liberation Sans", sans-serif;font-size:13.7px;color:#f6dcf3;white-space:pre;left:218.90px;width:600px;text-align:center;'>42%</div>
<div style='position:absolute;top:691.00px;line-height:17.94px;height:17.94px;font-family:"Liberation Sans", sans-serif;font-size:13.8px;color:#111;white-space:pre;letter-spacing:0.047px;left:614.20px;'>4%</div>
<div style='position:absolute;top:711.00px;line-height:17.94px;height:17.94px;font-family:"Liberation Sans", sans-serif;font-size:13.8px;color:#111;white-space:pre;letter-spacing:0.047px;left:614.20px;'>3%</div>
<div style='position:absolute;top:730.00px;line-height:17.94px;height:17.94px;font-family:"Liberation Sans", sans-serif;font-size:13.8px;color:#111;white-space:pre;letter-spacing:0.047px;left:614.20px;'>3%</div>
<div style='position:absolute;top:749.00px;line-height:17.94px;height:17.94px;font-family:"Liberation Sans", sans-serif;font-size:13.8px;color:#111;white-space:pre;letter-spacing:-1.653px;left:606.70px;'>1%</div>
<div style='position:absolute;top:611.00px;line-height:17.94px;height:17.94px;font-family:"Liberation Sans", sans-serif;font-size:13.8px;color:#111;white-space:pre;letter-spacing:-0.066px;left:664.20px;'>China</div>
<div style='position:absolute;top:632.00px;line-height:17.94px;height:17.94px;font-family:"Liberation Sans", sans-serif;font-size:13.8px;color:#111;white-space:pre;letter-spacing:0.153px;left:664.20px;'>Other Asia</div>
<div style='position:absolute;top:654.00px;line-height:17.94px;height:17.94px;font-family:"Liberation Sans", sans-serif;font-size:13.8px;color:#111;white-space:pre;letter-spacing:0.052px;left:664.20px;'>Japan</div>
<div style='position:absolute;top:676.00px;line-height:17.94px;height:17.94px;font-family:"Liberation Sans", sans-serif;font-size:13.8px;color:#111;white-space:pre;letter-spacing:0.148px;left:664.20px;'>Central &amp;</div>
<div style='position:absolute;top:693.00px;line-height:17.94px;height:17.94px;font-family:"Liberation Sans", sans-serif;font-size:13.8px;color:#111;white-space:pre;letter-spacing:0.071px;left:650.30px;'>Eastern Europe</div>
<div style='position:absolute;top:714.00px;line-height:17.94px;height:17.94px;font-family:"Liberation Sans", sans-serif;font-size:13.8px;color:#111;white-space:pre;letter-spacing:0.184px;left:664.20px;'>Latin America</div>
<div style='position:absolute;top:736.00px;line-height:17.94px;height:17.94px;font-family:"Liberation Sans", sans-serif;font-size:13.8px;color:#111;white-space:pre;letter-spacing:0.161px;left:664.20px;'>Middle East</div>
<div style='position:absolute;top:753.00px;line-height:17.94px;height:17.94px;font-family:"Liberation Sans", sans-serif;font-size:13.8px;color:#111;white-space:pre;letter-spacing:0.065px;left:650.30px;'>&amp; Africa</div>
<div style='position:absolute;top:774.00px;line-height:17.94px;height:17.94px;font-family:"Liberation Sans", sans-serif;font-size:13.8px;color:#111;white-space:pre;letter-spacing:0.215px;left:664.20px;'>North America</div>
<div style='position:absolute;top:796.00px;line-height:17.94px;height:17.94px;font-family:"Liberation Sans", sans-serif;font-size:13.8px;color:#111;white-space:pre;letter-spacing:0.196px;left:664.20px;'>Western Europe</div>
<div style='position:absolute;top:857.00px;line-height:15.08px;height:15.08px;font-family:"Liberation Sans", sans-serif;font-size:11.6px;color:#111;white-space:pre;letter-spacing:0.194px;left:437.00px;'>Source: IHS Markit.</div>
<div style='position:absolute;top:857.00px;line-height:15.08px;height:15.08px;font-family:"Liberation Sans", sans-serif;font-size:11.6px;color:#111;white-space:pre;letter-spacing:0.288px;right:438.31px;'>© 2017 IHS Markit</div>
<div style='position:absolute;top:906.00px;line-height:23.66px;height:23.66px;font-family:"Liberation Sans", sans-serif;font-size:18.2px;color:#fff;white-space:pre;font-weight:bold;letter-spacing:-0.020px;left:83.00px;'>Synthetic lubes annual growth rates</div>
<div style='position:absolute;top:938.00px;line-height:17.42px;height:17.42px;font-family:"Liberation Sans", sans-serif;font-size:13.4px;color:#111;white-space:pre;font-weight:bold;letter-spacing:0.335px;left:83.30px;'>(in percent, 2016-21)</div>
<div style='position:absolute;top:1200.00px;line-height:17.94px;height:17.94px;font-family:"Liberation Sans", sans-serif;font-size:13.8px;color:#111;white-space:pre;left:84.40px;'>0</div>
<div style='position:absolute;top:1160.00px;line-height:17.94px;height:17.94px;font-family:"Liberation Sans", sans-serif;font-size:13.8px;color:#111;white-space:pre;left:84.40px;'>1</div>
<div style='position:absolute;top:1120.00px;line-height:17.94px;height:17.94px;font-family:"Liberation Sans", sans-serif;font-size:13.8px;color:#111;white-space:pre;left:84.40px;'>2</div>
<div style='position:absolute;top:1080.00px;line-height:17.94px;height:17.94px;font-family:"Liberation Sans", sans-serif;font-size:13.8px;color:#111;white-space:pre;left:84.40px;'>3</div>
<div style='position:absolute;top:1040.00px;line-height:17.94px;height:17.94px;font-family:"Liberation Sans", sans-serif;font-size:13.8px;color:#111;white-space:pre;left:84.40px;'>4</div>
<div style='position:absolute;top:1000.00px;line-height:17.94px;height:17.94px;font-family:"Liberation Sans", sans-serif;font-size:13.8px;color:#111;white-space:pre;left:84.40px;'>5</div>
<div style='position:absolute;top:960.00px;line-height:17.94px;height:17.94px;font-family:"Liberation Sans", sans-serif;font-size:13.8px;color:#111;white-space:pre;left:84.40px;transform:scaleX(0.9322);transform-origin:0 0;'>6%</div>
<div style='position:absolute;top:1217.00px;line-height:18.07px;height:18.07px;font-family:"Liberation Sans", sans-serif;font-size:13.9px;color:#1a1a1a;white-space:pre;left:-153.50px;width:600px;text-align:center;'>North</div>
<div style='position:absolute;top:1233.00px;line-height:18.07px;height:18.07px;font-family:"Liberation Sans", sans-serif;font-size:13.9px;color:#1a1a1a;white-space:pre;left:-156.20px;width:600px;text-align:center;'>America</div>
<div style='position:absolute;top:1217.00px;line-height:18.07px;height:18.07px;font-family:"Liberation Sans", sans-serif;font-size:13.9px;color:#1a1a1a;white-space:pre;left:-85.00px;width:600px;text-align:center;'>Latin</div>
<div style='position:absolute;top:1233.00px;line-height:18.07px;height:18.07px;font-family:"Liberation Sans", sans-serif;font-size:13.9px;color:#1a1a1a;white-space:pre;left:-88.30px;width:600px;text-align:center;'>America</div>
<div style='position:absolute;top:1217.00px;line-height:18.07px;height:18.07px;font-family:"Liberation Sans", sans-serif;font-size:13.9px;color:#1a1a1a;white-space:pre;left:-18.10px;width:600px;text-align:center;'>Western</div>
<div style='position:absolute;top:1233.00px;line-height:18.07px;height:18.07px;font-family:"Liberation Sans", sans-serif;font-size:13.9px;color:#1a1a1a;white-space:pre;left:-17.00px;width:600px;text-align:center;'>Europe</div>
<div style='position:absolute;top:1217.00px;line-height:18.07px;height:18.07px;font-family:"Liberation Sans", sans-serif;font-size:13.9px;color:#1a1a1a;white-space:pre;left:55.90px;width:600px;text-align:center;'>Central &amp;</div>
<div style='position:absolute;top:1233.00px;line-height:18.07px;height:18.07px;font-family:"Liberation Sans", sans-serif;font-size:13.9px;color:#1a1a1a;white-space:pre;left:52.50px;width:600px;text-align:center;'>Eastern</div>
<div style='position:absolute;top:1249.00px;line-height:18.07px;height:18.07px;font-family:"Liberation Sans", sans-serif;font-size:13.9px;color:#6e6e6e;white-space:pre;left:54.50px;width:600px;text-align:center;'>Europe</div>
<div style='position:absolute;top:1217.00px;line-height:18.07px;height:18.07px;font-family:"Liberation Sans", sans-serif;font-size:13.9px;color:#1a1a1a;white-space:pre;left:124.00px;width:600px;text-align:center;'>Middle</div>
<div style='position:absolute;top:1233.00px;line-height:18.07px;height:18.07px;font-family:"Liberation Sans", sans-serif;font-size:13.9px;color:#1a1a1a;white-space:pre;left:123.60px;width:600px;text-align:center;'>East &amp;</div>
<div style='position:absolute;top:1249.00px;line-height:18.07px;height:18.07px;font-family:"Liberation Sans", sans-serif;font-size:13.9px;color:#6e6e6e;white-space:pre;left:124.90px;width:600px;text-align:center;'>Africa</div>
<div style='position:absolute;top:1217.00px;line-height:18.07px;height:18.07px;font-family:"Liberation Sans", sans-serif;font-size:13.9px;color:#1a1a1a;white-space:pre;left:196.70px;width:600px;text-align:center;'>Japan</div>
<div style='position:absolute;top:1217.00px;line-height:18.07px;height:18.07px;font-family:"Liberation Sans", sans-serif;font-size:13.9px;color:#1a1a1a;white-space:pre;left:269.40px;width:600px;text-align:center;'>China</div>
<div style='position:absolute;top:1217.00px;line-height:18.07px;height:18.07px;font-family:"Liberation Sans", sans-serif;font-size:13.9px;color:#1a1a1a;white-space:pre;left:337.40px;width:600px;text-align:center;'>Other</div>
<div style='position:absolute;top:1233.00px;line-height:18.07px;height:18.07px;font-family:"Liberation Sans", sans-serif;font-size:13.9px;color:#1a1a1a;white-space:pre;left:338.00px;width:600px;text-align:center;'>Asia</div>
<div style='position:absolute;top:1217.00px;line-height:18.07px;height:18.07px;font-family:"Liberation Sans", sans-serif;font-size:13.9px;color:#1a1a1a;white-space:pre;left:406.30px;width:600px;text-align:center;'>World</div>
<div style='position:absolute;top:1233.00px;line-height:18.07px;height:18.07px;font-family:"Liberation Sans", sans-serif;font-size:13.9px;color:#1a1a1a;white-space:pre;left:404.40px;width:600px;text-align:center;'>average</div>
<div style='position:absolute;top:1268.00px;line-height:15.08px;height:15.08px;font-family:"Liberation Sans", sans-serif;font-size:11.6px;color:#111;white-space:pre;letter-spacing:0.210px;left:78.30px;'>Source: IHS Markit.</div>
<div style='position:absolute;top:1268.00px;line-height:15.08px;height:15.08px;font-family:"Liberation Sans", sans-serif;font-size:11.6px;color:#111;white-space:pre;letter-spacing:0.269px;right:438.53px;'>© 2017 IHS Markit</div>
<div style='position:absolute;top:1526.00px;line-height:16.9px;height:16.9px;font-family:"Liberation Sans", sans-serif;font-size:13px;color:#111;white-space:pre;font-weight:bold;left:69.30px;transform:scaleX(0.9814);transform-origin:0 0;'>20</div>
<div style='position:absolute;top:1526.00px;line-height:16.9px;height:16.9px;font-family:"Liberation Sans", sans-serif;font-size:13px;color:#222;white-space:pre;left:98.20px;transform:scaleX(0.9857);transform-origin:0 0;'>Chemical Week</div>
<div style='position:absolute;top:1526.00px;line-height:16.9px;height:16.9px;font-family:"Liberation Sans", sans-serif;font-size:13px;color:#222;white-space:pre;left:203.60px;transform:scaleX(0.9794);transform-origin:0 0;'>18/25 December 2017</div>
<div style='position:absolute;top:1525.00px;line-height:17.94px;height:17.94px;font-family:"Liberation Sans", sans-serif;font-size:13.8px;color:#222;white-space:pre;right:68.40px;transform:scaleX(0.9650);transform-origin:100% 0;'>chemweek.com</div>
</div>
</body></html>
